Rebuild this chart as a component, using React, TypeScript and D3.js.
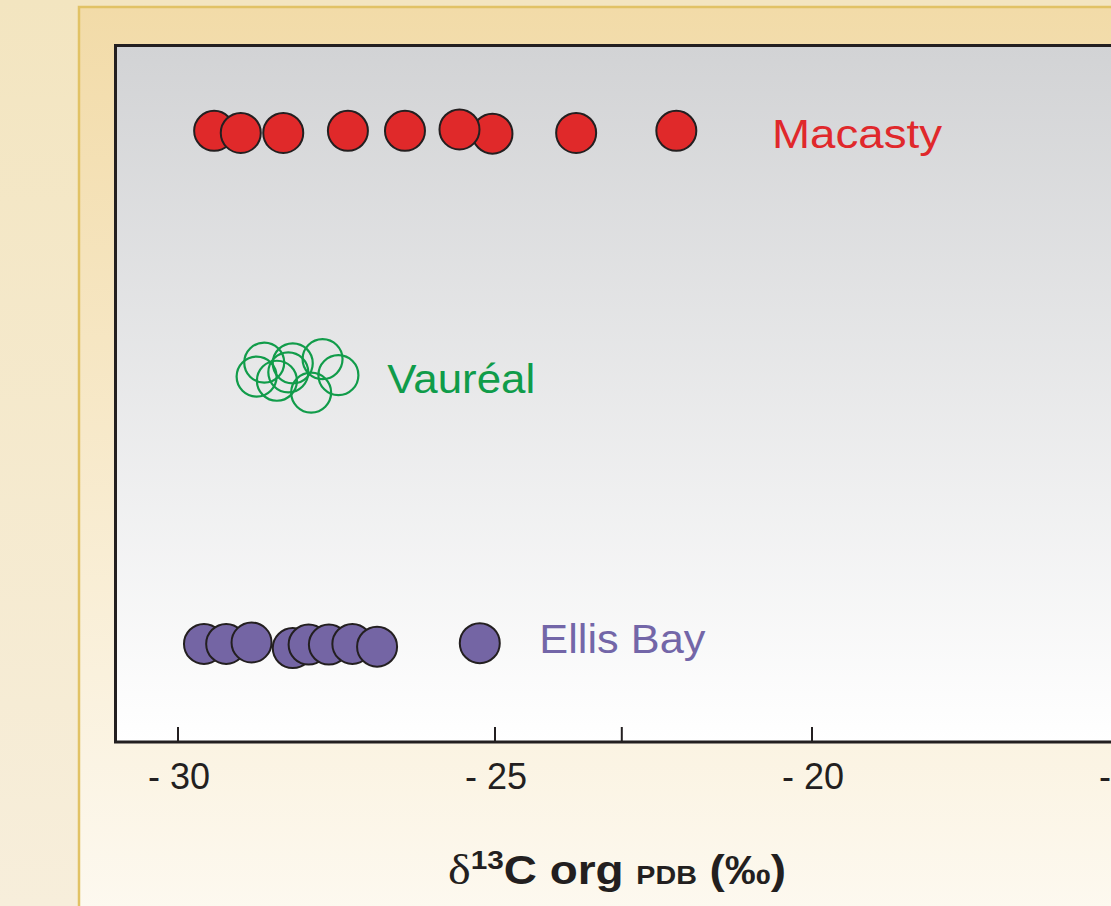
import React, { useEffect, useRef } from 'react';
import * as d3 from 'd3';

// values (δ13C, ‰) and a vertical position in plot % units
const macastyX: number[] = [-29.43, -29.01, -28.34, -27.32, -26.42, -25.04, -25.56, -23.72, -22.14];
const macastyY: number[] = [87.7, 87.4, 87.4, 87.7, 87.7, 87.3, 87.9, 87.4, 87.7];

const vaurealX: number[] = [-28.76, -28.64, -28.19, -27.72, -27.47, -27.9, -28.44, -28.26];
const vaurealY: number[] = [52.5, 54.5, 54.4, 55.0, 52.7, 50.2, 51.9, 53.1];

const ellisX: number[] = [-29.59, -29.24, -28.84, -28.19, -27.94, -27.62, -27.25, -26.86, -25.24];
const ellisY: number[] = [14.2, 14.2, 14.4, 13.6, 14.1, 14.1, 14.2, 13.8, 14.3];

const seriesNames: string[] = ['Macasty', 'Vauréal', 'Ellis Bay'];
// label anchor (start of text, baseline) in data units
const labelX: number[] = [-20.63, -26.7, -24.3];
const labelY: number[] = [85.2, 50.1, 12.9];

const tickValues: number[] = [-30, -25, -23, -20, -15];
const labelledTicks: number[] = [-30, -25, -20, -15];

const App: React.FC = () => {
    const ref = useRef<SVGSVGElement | null>(null);

    useEffect(() => {
        document.body.style.margin = '0';
        const el = ref.current;
        if (!el) return;
        const svg = d3.select(el);
        svg.selectAll('*').remove();

        const W = 1111;
        const H = 906;
        const font = '"Liberation Sans", Arial, Helvetica, sans-serif';
        const ink = '#231f20';
        const plotLeft = 115.5;
        const plotTop = 45.5;
        const plotBottom = 742;
        const plotRight = 1160;

        const x = d3.scaleLinear().domain([-30, -20]).range([178, 812]);
        const y = d3.scaleLinear().domain([0, 100]).range([743, 45]);

        const defs = svg.append('defs');
        const grad = (id: string, top: string, bottom: string) => {
            const g = defs.append('linearGradient').attr('id', id)
                .attr('x1', 0).attr('y1', 0).attr('x2', 0).attr('y2', 1);
            g.append('stop').attr('offset', 0).attr('stop-color', top);
            g.append('stop').attr('offset', 1).attr('stop-color', bottom);
        };
        grad('bgGrad', '#f3e5c0', '#f7eedb');
        grad('panelGrad', '#f2dba8', '#fefcf7');
        grad('plotGrad', '#d2d3d5', '#ffffff');

        svg.append('rect').attr('width', W).attr('height', H).attr('fill', 'url(#bgGrad)');
        svg.append('rect')
            .attr('x', 79).attr('y', 7).attr('width', 1200).attr('height', 1000)
            .attr('fill', 'url(#panelGrad)')
            .attr('stroke', '#e1c265').attr('stroke-width', 2.5);

        svg.append('rect')
            .attr('x', plotLeft).attr('y', plotTop)
            .attr('width', plotRight - plotLeft).attr('height', plotBottom - plotTop)
            .attr('fill', 'url(#plotGrad)')
            .attr('stroke', ink).attr('stroke-width', 3);

        // ticks
        svg.append('g').selectAll('line').data(tickValues).enter().append('line')
            .attr('x1', (d) => x(d)).attr('x2', (d) => x(d))
            .attr('y1', plotBottom - 15).attr('y2', plotBottom)
            .attr('stroke', ink).attr('stroke-width', 2);

        svg.append('g').selectAll('text').data(labelledTicks).enter().append('text')
            .attr('x', (d) => x(d) + 1).attr('y', 789)
            .attr('text-anchor', 'middle')
            .attr('font-family', font).attr('font-size', 36).attr('fill', ink)
            .text((d) => `- ${Math.abs(d)}`);

        // points
        const filled = (xs: number[], ys: number[], fill: string) => {
            svg.append('g').selectAll('circle').data(xs).enter().append('circle')
                .attr('cx', (d) => x(d)).attr('cy', (_, i) => y(ys[i]))
                .attr('r', 20)
                .attr('fill', fill).attr('stroke', ink).attr('stroke-width', 2);
        };
        filled(macastyX, macastyY, '#e0292a');
        filled(ellisX, ellisY, '#7465a4');

        svg.append('g').selectAll('circle').data(vaurealX).enter().append('circle')
            .attr('cx', (d) => x(d)).attr('cy', (_, i) => y(vaurealY[i]))
            .attr('r', 20)
            .attr('fill', 'none').attr('stroke', '#119c4a').attr('stroke-width', 2.2);

        // series labels
        const labelColors = ['#e0282b', '#0f9c4a', '#7366a8'];
        const labelWidths = [170, 148, 166];
        svg.append('g').selectAll('text').data(seriesNames).enter().append('text')
            .attr('x', (_, i) => x(labelX[i])).attr('y', (_, i) => y(labelY[i]))
            .attr('font-family', font).attr('font-size', 40)
            .attr('fill', (_, i) => labelColors[i])
            .attr('textLength', (_, i) => labelWidths[i])
            .attr('lengthAdjust', 'spacingAndGlyphs')
            .text((d) => d);

        // axis title
        const title = svg.append('text')
            .attr('x', 617).attr('y', 884)
            .attr('text-anchor', 'middle')
            .attr('font-family', font).attr('font-weight', 'bold').attr('font-size', 40)
            .attr('fill', ink)
            .attr('textLength', 338)
            .attr('lengthAdjust', 'spacingAndGlyphs');
        title.append('tspan')
            .attr('font-family', '"Liberation Serif", "Times New Roman", serif')
            .attr('font-weight', 'normal').attr('font-size', 42)
            .text('δ');
        title.append('tspan').attr('font-size', 26).attr('dy', -15).text('13');
        title.append('tspan').attr('dy', 15).text('C org ');
        title.append('tspan').attr('font-size', 25).text('PDB');
        title.append('tspan').text(' (‰)');
    }, []);

    return <svg ref={ref} width={1111} height={906} style={{ display: 'block' }} />;
};

export default App;
